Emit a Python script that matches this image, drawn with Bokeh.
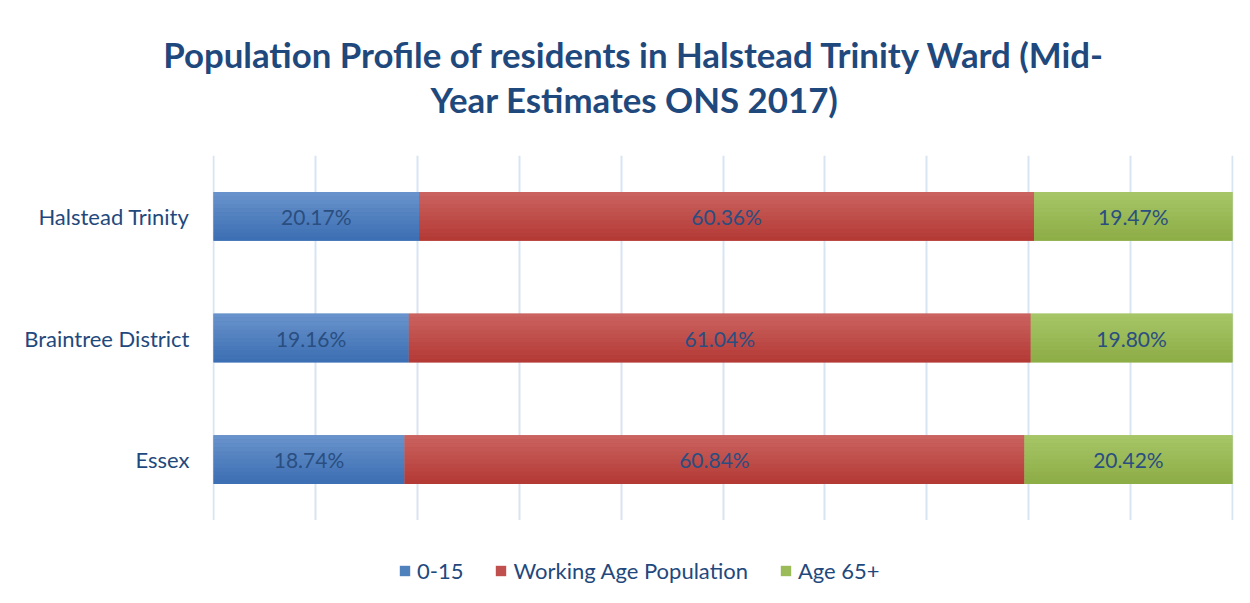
from bokeh.plotting import figure
from bokeh.layouts import column
from bokeh.models import (ColumnDataSource, FactorRange, Range1d, FixedTicker, Legend,
                          LegendItem, LabelSet, Label)
from bokeh.transform import dodge
from bokeh.core.properties import value
from bokeh.embed import file_html
from bokeh.resources import INLINE

categories = ["Halstead Trinity", "Braintree District", "Essex"]
series_names = ["0-15", "Working Age Population", "Age 65+"]
age_0_15 = [20.17, 19.16, 18.74]
working_age = [60.36, 61.04, 60.84]
age_65_plus = [19.47, 19.80, 20.42]
x_ticks = [0, 10, 20, 30, 40, 50, 60, 70, 80, 90, 100]
title_lines = ["Population Profile of residents in Halstead Trinity Ward (Mid-",
               "Year Estimates ONS 2017)"]

mid_colors = ["#4F81BD", "#C0504D", "#9BBB59"]
top_colors = ["#6A94CC", "#CB6461", "#A7C667"]
bot_colors = ["#3A6DB2", "#B33834", "#8CAC46"]
text_col = "#1F497D"
font = "Lato"
W = 1242


def mix(c1, c2, t):
    a = [int(c1[i:i + 2], 16) for i in (1, 3, 5)]
    b = [int(c2[i:i + 2], 16) for i in (1, 3, 5)]
    return "#%02x%02x%02x" % tuple(round(x + (y - x) * t) for x, y in zip(a, b))


def no_align(fig):
    try:
        fig.frame_align = False
    except Exception:
        pass


keys = ["s0", "s1", "s2"]
series = [age_0_15, working_age, age_65_plus]
data = {"cat": categories}
for k, vals in zip(keys, series):
    data[k] = vals
    data[k + "_txt"] = ["%.2f%%" % v for v in vals]
starts = [0.0] * len(categories)
for k, vals in zip(keys, series):
    data[k + "_mid"] = [s + v / 2 for s, v in zip(starts, vals)]
    starts = [s + v for s, v in zip(starts, vals)]
source = ColumnDataSource(data)

# ---------- title strip ----------
TH = 155
pt = figure(width=W, height=TH, output_backend="svg", toolbar_location=None, tools="",
            x_range=Range1d(0, 1), y_range=Range1d(0, 1),
            x_axis_location=None, y_axis_location=None, min_border=0)
no_align(pt)
pt.outline_line_color = None
pt.grid.visible = False
for txt, yb in zip(title_lines, [101, 56]):
    pt.add_layout(Label(x=634, y=yb, x_units="screen", y_units="screen", text=txt,
                        text_align="center", text_baseline="alphabetic",
                        text_font=font, text_font_style="bold", text_font_size="34.8px",
                        text_color=text_col))

# ---------- main chart ----------
BAR_H = 0.4
p = figure(width=W, height=365, output_backend="svg", toolbar_location=None, tools="",
           y_range=FactorRange(factors=categories[::-1]), x_range=Range1d(-0.1, 100.1),
           x_axis_location=None)
no_align(p)
p.min_border_left = 212
p.min_border_right = 9
p.min_border_top = 0
p.min_border_bottom = 0
p.outline_line_color = None

p.hbar_stack(keys, y="cat", height=BAR_H, color=mid_colors, source=source, line_color=None)
N = 12
h = BAR_H / N
for i in range(N):
    t = (i + 0.5) / N
    off = BAR_H / 2 - (i + 0.5) * h
    cols = [mix(a, b, t) for a, b in zip(top_colors, bot_colors)]
    p.hbar_stack(keys, y=dodge("cat", off, range=p.y_range), height=h * 1.04,
                 color=cols, source=source, line_color=None)

p.xgrid.ticker = FixedTicker(ticks=x_ticks)
p.xgrid.grid_line_color = "#D9E4F2"
p.xgrid.grid_line_width = 2
p.ygrid.grid_line_color = None

yax = p.yaxis[0]
yax.axis_line_color = None
yax.major_tick_line_color = None
yax.minor_tick_line_color = None
yax.major_label_text_font = font
yax.major_label_text_font_size = "22px"
yax.major_label_text_color = text_col
yax.major_label_standoff = 17

for k in keys:
    p.add_layout(LabelSet(x=k + "_mid", y="cat", text=k + "_txt", source=source,
                          text_align="center", text_baseline="middle",
                          text_font=value(font), text_font_size="21px", text_color="#2A4E80"))

# ---------- legend strip ----------
pl = figure(width=W, height=80, output_backend="svg", toolbar_location=None, tools="",
            y_range=FactorRange(factors=categories[::-1]), x_range=Range1d(0, 100),
            x_axis_location=None, y_axis_location=None, min_border=0)
no_align(pl)
pl.outline_line_color = None
pl.grid.visible = False
leg_r = pl.hbar_stack(keys, y="cat", height=0, color=mid_colors, source=source, line_color=None)
legend = Legend(items=[LegendItem(label=n, renderers=[r]) for n, r in zip(series_names, leg_r)],
                orientation="horizontal", location=(398, 16), margin=0, padding=0,
                glyph_width=13, glyph_height=13, label_standoff=6, spacing=31,
                border_line_color=None, background_fill_alpha=0,
                label_text_font=font, label_text_font_size="22px", label_text_color=text_col)
pl.add_layout(legend, "center")

layout = column(pt, p, pl, spacing=0)
open("out.html", "w").write(file_html(layout, INLINE))
